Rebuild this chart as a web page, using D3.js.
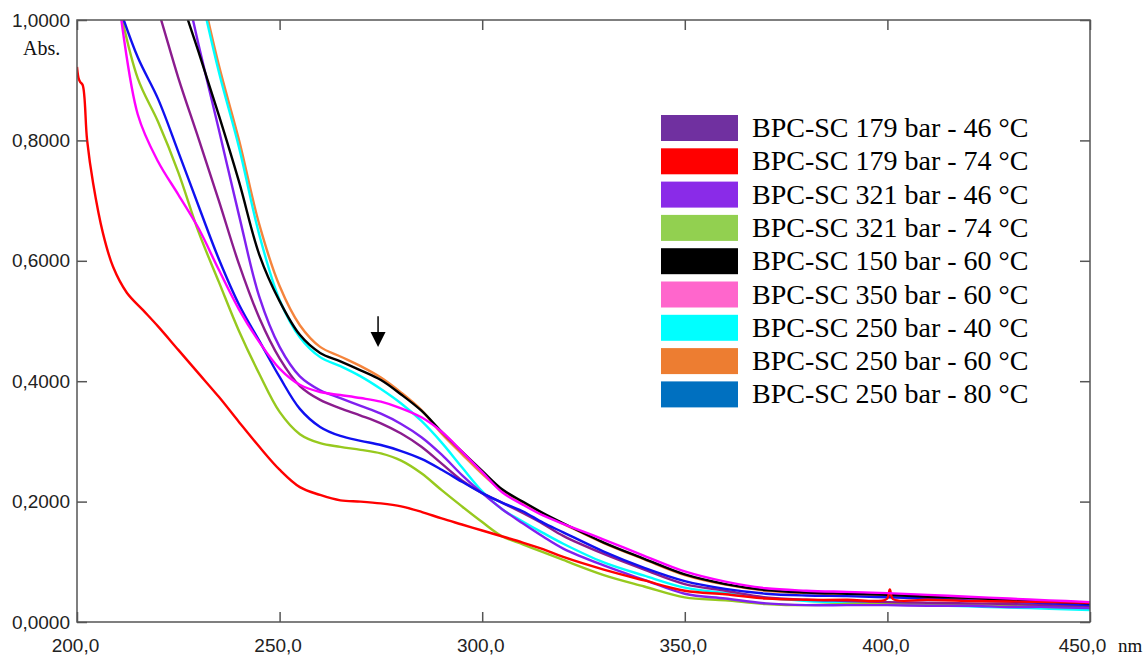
<!DOCTYPE html>
<html>
<head>
<meta charset="utf-8">
<script src="https://cdn.jsdelivr.net/npm/d3@7"></script>
<style>
  html, body { margin: 0; padding: 0; background: #fff; }
  svg { display: block; }
</style>
</head>
<body>
<svg id="chart" width="1146" height="655"></svg>
<script>
// Wavelength grid (nm) shared by most spectra
const wavelengths = [210,215,220,225,230,235,240,245,250,255,260,265,270,275,280,285,290,295,300,305,310,315,320,330,340,350,360,370,380,390,400,410,420,430,440,450];

// Absorbance values on the shared grid (null = far above the plotted range)
const abs179_46 = [null,1.12,1.017,0.904,0.803,0.700,0.594,0.505,0.438,0.392,0.369,0.355,0.343,0.330,0.313,0.291,0.263,0.235,0.214,0.198,0.181,0.163,0.143,0.113,0.087,0.063,0.052,0.041,0.037,0.035,0.033,0.032,0.031,0.030,0.028,0.027];
const abs321_46 = [null,null,null,1.11,0.959,0.818,0.675,0.540,0.457,0.408,0.385,0.372,0.359,0.346,0.329,0.307,0.278,0.244,0.214,0.187,0.164,0.142,0.122,0.094,0.070,0.047,0.039,0.031,0.028,0.028,0.028,0.027,0.027,0.025,0.025,0.023];
const abs321_74 = [1.037,0.903,0.831,0.747,0.648,0.565,0.483,0.412,0.349,0.312,0.297,0.291,0.286,0.280,0.268,0.247,0.219,0.192,0.166,0.142,0.129,0.116,0.103,0.078,0.059,0.041,0.036,0.030,0.028,0.030,0.030,0.028,0.028,0.027,0.025,0.025];
const abs150_60 = [null,null,null,1.048,0.947,0.842,0.731,0.610,0.533,0.477,0.447,0.433,0.418,0.402,0.378,0.351,0.316,0.283,0.251,0.220,0.200,0.181,0.164,0.132,0.105,0.079,0.063,0.053,0.049,0.047,0.045,0.042,0.040,0.037,0.034,0.031];
const abs350_60 = [1.05,0.843,0.765,0.710,0.654,0.585,0.519,0.465,0.421,0.394,0.382,0.377,0.372,0.366,0.355,0.340,0.316,0.283,0.249,0.215,0.195,0.177,0.163,0.137,0.110,0.084,0.067,0.056,0.052,0.050,0.048,0.045,0.042,0.039,0.036,0.033];
const abs250_40 = [null,null,null,null,1.06,0.914,0.788,0.643,0.535,0.473,0.440,0.425,0.408,0.387,0.363,0.334,0.298,0.257,0.217,0.187,0.167,0.148,0.130,0.099,0.077,0.057,0.048,0.040,0.035,0.032,0.030,0.028,0.026,0.024,0.022,0.020];
const abs250_60 = [null,null,null,null,1.07,0.925,0.800,0.660,0.558,0.493,0.457,0.441,0.425,0.406,0.381,0.352,0.313,0.279,0.246,0.217,0.197,0.179,0.163,0.131,0.104,0.078,0.062,0.052,0.048,0.046,0.044,0.041,0.039,0.036,0.033,0.030];
const abs250_80 = [1.03,0.938,0.869,0.781,0.691,0.603,0.527,0.467,0.407,0.354,0.324,0.309,0.301,0.294,0.284,0.271,0.253,0.233,0.214,0.198,0.184,0.165,0.149,0.117,0.090,0.068,0.055,0.047,0.044,0.043,0.041,0.039,0.036,0.034,0.031,0.028];

// The 179 bar / 74 °C spectrum is sampled on its own wavelengths
const wavelengths179_74 = [200,200.4,200.8,201.4,202.5,204,206.4,208.9,212.3,216.3,220,225,230,235,240,245,250,255,260,265,270,275,280,285,290,295,300,305,310,315,320,330,340,350,360,370,380,390,399.8,400.6,401.4,410,420,430,440,450];
const abs179_74 = [0.922,0.903,0.897,0.892,0.800,0.728,0.646,0.590,0.547,0.518,0.491,0.452,0.413,0.374,0.332,0.291,0.253,0.224,0.211,0.202,0.200,0.197,0.192,0.183,0.172,0.162,0.152,0.142,0.132,0.121,0.108,0.087,0.069,0.052,0.046,0.039,0.037,0.037,0.038,0.054,0.038,0.037,0.035,0.034,0.033,0.032];

// Legend entries (in legend order), swatch colours and trace colours
const seriesLabels = [
  "BPC-SC 179 bar - 46 °C",
  "BPC-SC 179 bar - 74 °C",
  "BPC-SC 321 bar - 46 °C",
  "BPC-SC 321 bar - 74 °C",
  "BPC-SC 150 bar - 60 °C",
  "BPC-SC 350 bar - 60 °C",
  "BPC-SC 250 bar - 40 °C",
  "BPC-SC 250 bar - 60 °C",
  "BPC-SC 250 bar - 80 °C"
];
const swatchColors = ["#7030A0","#FF0000","#8A2BE8","#92D050","#000000","#FF66CC","#00FFFF","#ED7D31","#0070C0"];
const lineColors   = ["#8B1C8E","#FF0000","#8020F0","#97C91E","#000000","#FF00FF","#00FFFF","#F5843C","#1010F0"];

// Axis ticks
const xTicks = [200,250,300,350,400,450];
const yTicks = [0,0.2,0.4,0.6,0.8,1.0];

// Arrow marking the shoulder near 275 nm
const arrowNm = 274.3, arrowFrom = 0.508, arrowTo = 0.457;

// ---- build series
const seriesX = [wavelengths, wavelengths179_74, wavelengths, wavelengths, wavelengths, wavelengths, wavelengths, wavelengths, wavelengths];
const seriesY = [abs179_46, abs179_74, abs321_46, abs321_74, abs150_60, abs350_60, abs250_40, abs250_60, abs250_80];
const series = seriesLabels.map((label, i) => ({
  label, color: lineColors[i], swatch: swatchColors[i],
  points: seriesX[i].map((w, j) => ({ w, a: seriesY[i][j] }))
}));
// Draw order (back to front)
const drawOrder = [7, 6, 3, 2, 0, 8, 4, 1, 5];

const svg = d3.select("#chart");
const W = 1146, H = 655;
const plotL = 77, plotR = 1090, plotT = 20, plotB = 622;

svg.append("rect").attr("width", W).attr("height", H).attr("fill", "#fff");

const x = d3.scaleLinear().domain([200, 450]).range([plotL, plotR]);
const y = d3.scaleLinear().domain([0, 1]).range([plotB, plotT]);

const commaFmt = d3.formatLocale({ decimal: ",", thousands: ".", grouping: [3], currency: ["", ""] });
const fmtY = commaFmt.format(".4f");
const fmtX = commaFmt.format(".1f");

svg.append("clipPath").attr("id", "plot-clip")
  .append("rect").attr("x", plotL).attr("y", plotT).attr("width", plotR - plotL).attr("height", plotB - plotT);

// ---- spectra
const line = d3.line()
  .defined(d => d.a != null)
  .x(d => x(d.w))
  .y(d => y(d.a))
  .curve(d3.curveCatmullRom.alpha(0.5));

const gLines = svg.append("g").attr("clip-path", "url(#plot-clip)");
drawOrder.forEach(i => {
  gLines.append("path")
    .datum(series[i].points)
    .attr("fill", "none")
    .attr("stroke", series[i].color)
    .attr("stroke-width", 2.4)
    .attr("stroke-linejoin", "round")
    .attr("d", line);
});

// ---- axes (ticks point inward)
const axisColor = "#555";
const tickFont = "'Liberation Sans', Arial, sans-serif";

const gx = svg.append("g").attr("transform", `translate(0,${plotB})`)
  .call(d3.axisBottom(x).tickValues(xTicks).tickSize(-10).tickPadding(17).tickFormat(fmtX));
const gy = svg.append("g").attr("transform", `translate(${plotL},0)`)
  .call(d3.axisLeft(y).tickValues(yTicks).tickSize(-10).tickPadding(7).tickFormat(fmtY));
const gr = svg.append("g").attr("transform", `translate(${plotR},0)`)
  .call(d3.axisRight(y).tickValues(yTicks).tickSize(-10).tickFormat(""));
const gt = svg.append("g").attr("transform", `translate(0,${plotT})`)
  .call(d3.axisTop(x).tickValues(xTicks).tickSize(-10).tickFormat(""));

[gx, gy, gr, gt].forEach(g => {
  g.select(".domain").remove();
  g.selectAll(".tick line").attr("stroke", axisColor).attr("stroke-width", 1.5);
  g.selectAll("text").attr("font-family", tickFont).attr("font-size", 19).attr("fill", "#222");
});
gx.selectAll(".tick text").attr("dx", (d, i) => (i === xTicks.length - 1 ? -8 : -2));

svg.append("rect")
  .attr("x", plotL).attr("y", plotT).attr("width", plotR - plotL).attr("height", plotB - plotT)
  .attr("fill", "none").attr("stroke", axisColor).attr("stroke-width", 1.5);

// axis unit labels
svg.append("text").attr("x", 23).attr("y", 55)
  .attr("font-family", "'Liberation Serif', 'Times New Roman', serif").attr("font-size", 20).attr("fill", "#111")
  .text("Abs.");
svg.append("text").attr("x", 1118).attr("y", 652)
  .attr("font-family", "'Liberation Serif', 'Times New Roman', serif").attr("font-size", 19).attr("fill", "#111")
  .text("nm");

// ---- arrow annotation
const ax = x(arrowNm);
svg.append("line")
  .attr("x1", ax).attr("x2", ax)
  .attr("y1", y(arrowFrom)).attr("y2", y(arrowTo) - 14)
  .attr("stroke", "#000").attr("stroke-width", 1.5);
svg.append("path")
  .attr("d", `M${ax - 7.5},${y(arrowTo) - 15} L${ax + 7.5},${y(arrowTo) - 15} L${ax},${y(arrowTo)} Z`)
  .attr("fill", "#000");

// ---- legend
const legend = svg.append("g");
const rowPitch = 33.3, legTop = 115;
series.forEach((s, i) => {
  const ry = legTop + i * rowPitch;
  legend.append("rect")
    .attr("x", 661).attr("y", ry).attr("width", 77).attr("height", 26)
    .attr("fill", s.swatch);
  legend.append("text")
    .attr("x", 752).attr("y", ry + 22)
    .attr("font-family", "'Liberation Serif', 'Times New Roman', serif")
    .attr("font-size", 28).attr("fill", "#000")
    .text(s.label);
});
</script>
</body>
</html>
